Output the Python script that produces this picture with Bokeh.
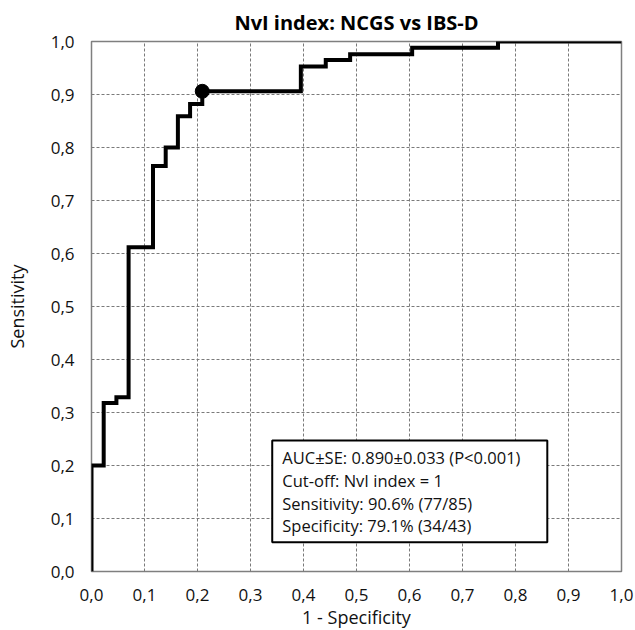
from bokeh.plotting import figure
from bokeh.models import Label, FixedTicker
from bokeh.embed import file_html
from bokeh.resources import INLINE

# ROC curve vertices (1 - specificity, sensitivity)
fpr = [0.0, 0.0, 0.023, 0.047, 0.070, 0.116, 0.140, 0.163, 0.186, 0.209,
       0.395, 0.442, 0.488, 0.605, 0.767, 1.0]
tpr = [0.0, 0.200, 0.318, 0.329, 0.612, 0.765, 0.800, 0.859, 0.882, 0.906,
       0.953, 0.965, 0.976, 0.988, 1.0, 1.0]
cut_fpr = [0.209]
cut_tpr = [0.906]
ticks = [0.0, 0.1, 0.2, 0.3, 0.4, 0.5, 0.6, 0.7, 0.8, 0.9, 1.0]
tick_labels = ["0,0", "0,1", "0,2", "0,3", "0,4", "0,5", "0,6", "0,7", "0,8", "0,9", "1,0"]
info_lines = ["AUC\u00b1SE: 0.890\u00b10.033 (P<0.001)",
              "Cut-off: NvI index = 1",
              "Sensitivity: 90.6% (77/85)",
              "Specificity: 79.1% (34/43)"]

FONT = "Open Sans"

p = figure(frame_width=530, frame_height=530, min_border_left=91, min_border_right=14,
           min_border_top=41, min_border_bottom=59,
           x_range=(0, 1), y_range=(0, 1), output_backend="svg", toolbar_location=None,
           title="NvI index: NCGS vs IBS-D")
p.title.text_font = FONT
p.title.text_font_size = "20px"
p.title.text_font_style = "bold"
p.title.align = "center"
p.title.text_color = "#000000"
p.title.standoff = 12

p.outline_line_color = "#7f7f7f"
p.outline_line_width = 1.5
p.background_fill_color = "white"
p.border_fill_color = "white"

for ax in (p.xaxis[0], p.yaxis[0]):
    ax.ticker = FixedTicker(ticks=ticks)
    ax.major_label_overrides = {t: l for t, l in zip(ticks, tick_labels)}
    ax.axis_line_color = None
    ax.major_tick_line_color = None
    ax.minor_tick_line_color = None
    ax.major_tick_out = 0
    ax.major_tick_in = 0
    ax.major_label_text_font = FONT
    ax.major_label_text_font_size = "17px"
    ax.major_label_text_color = "#111111"
    ax.axis_label_text_font = FONT
    ax.axis_label_text_font_size = "18px"
    ax.axis_label_text_font_style = "normal"
    ax.axis_label_text_color = "#111111"

p.xaxis.axis_label = "1 - Specificity"
p.yaxis.axis_label = "Sensitivity"
p.xaxis.major_label_standoff = 17
p.yaxis.major_label_standoff = 17
p.xaxis.axis_label_standoff = 1
p.yaxis.axis_label_standoff = 19

for g in (p.xgrid[0], p.ygrid[0]):
    g.ticker = FixedTicker(ticks=ticks)
    g.grid_line_color = "#7a7a7a"
    g.grid_line_dash = "3 2"
    g.grid_line_width = 1

p.step(fpr, tpr, mode="after", line_color="black", line_width=4, line_join="miter")
p.scatter(cut_fpr, cut_tpr, size=14, color="black")

# info box
p.quad(left=[0.341], right=[0.860], bottom=[0.055], top=[0.247],
       fill_color="white", line_color="black", line_width=2)
ys = [0.2157, 0.1717, 0.1283, 0.0868]
for txt, yy in zip(info_lines, ys):
    p.add_layout(Label(x=0.36, y=yy, text=txt, text_font=FONT, text_font_size="16.5px",
                       text_baseline="middle", text_align="left", text_color="#111111"))

open("out.html", "w").write(file_html(p, INLINE))
